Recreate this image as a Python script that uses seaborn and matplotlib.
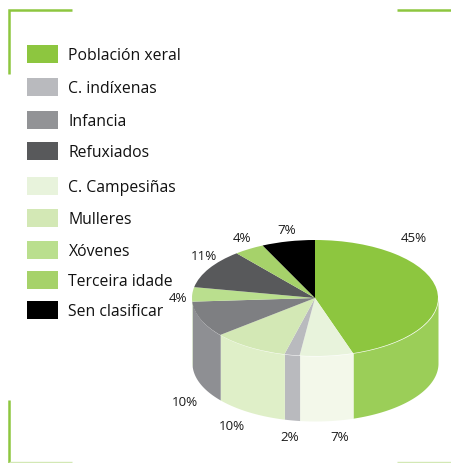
import numpy as np
import matplotlib
matplotlib.use("Agg")
import matplotlib.pyplot as plt
from matplotlib.patches import Rectangle
import seaborn as sns

# slices, clockwise from 12 o'clock
groups = ["Población xeral", "C. Campesiñas", "C. indíxenas", "Mulleres", "Infancia",
          "Xóvenes", "Refuxiados", "Terceira idade", "Sen clasificar"]
shares = [45, 7, 2, 10, 10, 4, 11, 4, 7]
top_colors = ["#8DC63F", "#E8F3DC", "#B9BABE", "#D3E8B5", "#7E7F82",
              "#BADF8E", "#58595B", "#A6D26A", "#000000"]
side_colors = ["#9BCE58", "#F3F8EA", "#B9BABE", "#DFEFC8", "#8E8F93",
               "#BADF8E", "#58595B", "#A6D26A", "#000000"]

# legend order and colours
legend_names = ["Población xeral", "C. indíxenas", "Infancia", "Refuxiados", "C. Campesiñas",
                "Mulleres", "Xóvenes", "Terceira idade", "Sen clasificar"]
legend_colors = ["#8DC63F", "#B9BABE", "#929396", "#58595B", "#E8F3DC",
                 "#D3E8B5", "#BADF8E", "#A6D26A", "#000000"]
legend_y = [55, 88, 121, 152, 187, 219, 251, 281, 311]

# label centres in pixels, same order as shares
label_x = [414, 340, 290, 232, 185, 178, 204, 242, 287]
label_y = [239, 438, 438, 427, 403, 299, 257, 239, 231]

W, H = 451, 464
CX, CY, RX, RY, DEPTH = 315, 299, 123, 58, 65

sns.set_theme(style="white")
plt.rcParams["font.family"] = ["Open Sans", "DejaVu Sans"]

fig = plt.figure(figsize=(W / 100, H / 100), dpi=100, facecolor="white")

# pie axes: one data unit is one radius, squashed into an ellipse
depth = DEPTH / RY
ax = fig.add_axes([(CX - RX) / W, 1 - (CY + RY + DEPTH) / H, 2 * RX / W, (2 * RY + DEPTH) / H])
wedges, _ = ax.pie(shares, colors=top_colors, startangle=90, counterclock=False, radius=1,
                   wedgeprops={"linewidth": 0}, normalize=True)
ax.set_aspect("auto")
ax.set_xlim(-1, 1)
ax.set_ylim(-1 - depth, 1)
ax.axis("off")

# side wall for the part of each wedge facing the viewer
for wedge, color in zip(wedges, side_colors):
    t = np.radians(np.linspace(wedge.theta1, wedge.theta2, 300))
    t = t[np.sin(t) <= 0]
    if len(t) == 0:
        continue
    ax.fill_between(np.cos(t), np.sin(t), np.sin(t) - depth, color=color, linewidth=0, zorder=0)

# overlay in pixel coordinates
over = fig.add_axes([0, 0, 1, 1], facecolor="none")
over.set_xlim(0, W)
over.set_ylim(H, 0)
over.axis("off")

# corner marks
green = "#8DC63F"
over.plot([8.5, 8.5, 72], [75, 11, 11], color=green, lw=1.8, solid_capstyle="butt", solid_joinstyle="miter")
over.plot([397, 451], [11, 11], color=green, lw=1.8, solid_capstyle="butt")
over.plot([9, 9], [401, 464], color=green, lw=1.8, solid_capstyle="butt")
over.plot([9, 72], [463, 463], color="#D3E8B5", lw=1, solid_capstyle="butt")
over.plot([397, 451], [463, 463], color="#D3E8B5", lw=1, solid_capstyle="butt")

# legend
for name, color, y in zip(legend_names, legend_colors, legend_y):
    over.add_patch(Rectangle((27, y - 9), 31, 18, facecolor=color, edgecolor="none"))
    over.text(68.5, y + 0.8, name, fontsize=11.3, color="#111111", va="center", ha="left")

# percentage labels
for share, x, y in zip(shares, label_x, label_y):
    over.text(x, y, f"{share}%", fontsize=9.6, color="#1a1a1a", va="center", ha="center")

fig.savefig("out.png", dpi=100)
